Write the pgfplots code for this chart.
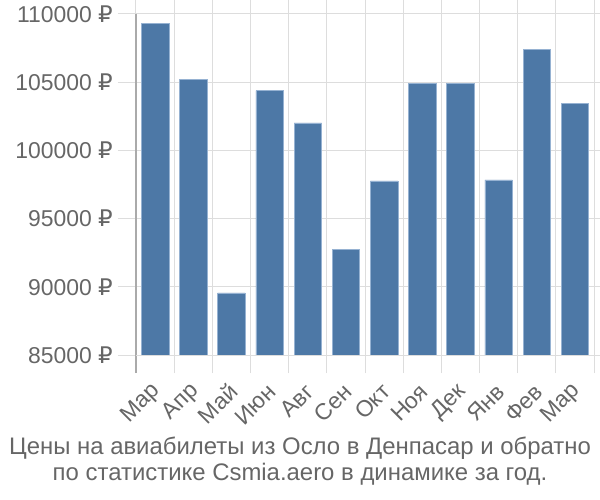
\documentclass[border=0pt]{standalone}
\usepackage{pgfplots}
\pgfplotsset{compat=1.18}
\usepackage{fontspec}
\setmainfont{Liberation Sans}
\newfontfamily\rubfont{DejaVu Sans}
\newcommand{\rub}{{\rubfont ₽}}
\definecolor{barblue}{RGB}{77,120,166}
\definecolor{baredge}{RGB}{150,178,210}
\definecolor{txtgray}{RGB}{102,102,102}
\definecolor{gridgray}{RGB}{221,221,221}
\definecolor{axgray}{RGB}{170,170,170}
\begin{document}
\begin{tikzpicture}
\useasboundingbox (-136bp,-145bp) rectangle (464bp,355bp);
\begin{axis}[
  at={(0,0)}, anchor=south west,
  scale only axis, width=458bp, height=341bp,
  xmin=-0.5, xmax=11.5, ymin=85000, ymax=110000,
  ybar, bar width=27.5bp,
  font=\fontsize{23}{27}\selectfont,
  /pgf/number format/assume math mode=true,
  scaled y ticks=false,
  xtick={0,...,11},
  xticklabels={Мар,Апр,Май,Июн,Авг,Сен,Окт,Ноя,Дек,Янв,Фев,Мар},
  major x tick style={draw=none},
  minor xtick={-0.5,0.5,...,11.5},
  xminorgrids, minor x grid style={gridgray, line width=1bp},
  minor tick length=18bp,
  tick align=outside,
  ytick={85000,90000,...,110000},
  yticklabels={85000 \rub,90000 \rub,95000 \rub,100000 \rub,105000 \rub,110000 \rub},
  ymajorgrids, major grid style={gridgray, line width=1bp},
  major tick length=18bp,
  y tick style={gridgray, line width=1bp},
  minor x tick style={gridgray, line width=1bp},
  xticklabel style={rotate=45, anchor=east, inner sep=0pt, yshift=-12bp, xshift=-9bp, text=txtgray},
  yticklabel style={text=txtgray, inner sep=0pt, xshift=-5bp},
  axis line style={draw=none},
  clip=false,
]
\addplot[fill=barblue, draw=baredge, line width=0.6bp] coordinates {
  (0,109320) (1,105180) (2,89550) (3,104380) (4,102010) (5,92770)
  (6,97760) (7,104940) (8,104940) (9,97830) (10,107410) (11,103450)
};
\draw[axgray, line width=1.2bp] (axis cs:-0.5,110000) -- ([yshift=-18bp]axis cs:-0.5,85000);
\draw[gridgray, line width=1bp] (axis cs:-0.5,85000) -- (axis cs:11.5,85000);
\end{axis}
\node[text=txtgray, align=center, font=\fontsize{24}{26}\selectfont] at (164bp,-106bp)
  {Цены на авиабилеты из Осло в Денпасар и обратно\\по статистике Csmia.aero в динамике за год.};
\end{tikzpicture}
\end{document}
